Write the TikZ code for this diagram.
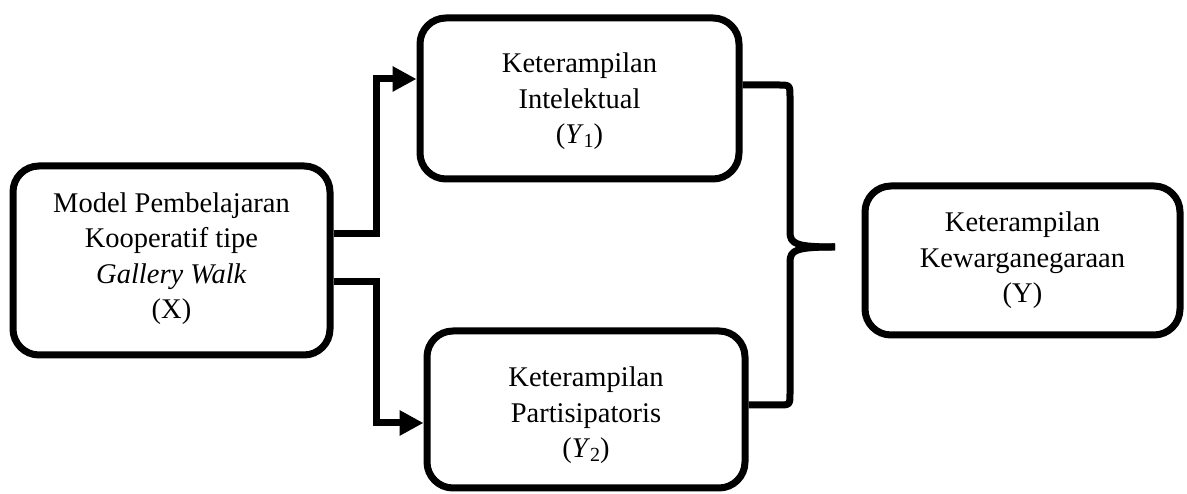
\documentclass[tikz,border=0pt]{standalone}
\usepackage{fontspec}
\setmainfont{Liberation Serif}
\usetikzlibrary{arrows.meta,calc}
\begin{document}
\begin{tikzpicture}[x=1pt,y=1pt,
  box/.style={draw, line width=7pt, rounded corners=26pt, inner sep=0pt},
  txt/.style={align=center, font=\fontsize{28.5}{35.5}\selectfont, inner sep=0pt},
  conn/.style={line width=7pt},
  arr/.style={conn, -{Triangle[length=24pt,width=24pt]}},
  brace/.style={line width=7pt, line join=round}]
\useasboundingbox (0,0) rectangle (1187,494);
\node[box, minimum width=317pt, minimum height=189pt] (X) at (171.5,233.5) {};
\node[txt] (Xt) at ($(X.center)+(0,2)$)
  {Model Pembelajaran\\Kooperatif tipe\\\textit{Gallery Walk}\\(X)};
\node[box, minimum width=319pt, minimum height=161pt] (Y1) at (579.5,395.5) {};
\node[txt] (Y1t) at ($(Y1.center)+(0,-3)$)
  {Keterampilan\\Intelektual\\(\textit{Y}\raisebox{-0.25ex}{\fontsize{20}{20}\selectfont 1})};
\node[box, minimum width=318pt, minimum height=157pt] (Y2) at (586,84.5) {};
\node[txt] (Y2t) at ($(Y2.center)+(0,-6)$)
  {Keterampilan\\Partisipatoris\\(\textit{Y}\raisebox{-0.25ex}{\fontsize{20}{20}\selectfont 2})};
\node[box, minimum width=315pt, minimum height=149pt] (Y) at (1022.5,233.5) {};
\node[txt] (Yt) at ($(Y.center)+(0,0)$)
  {Keterampilan\\Kewarganegaraan\\(Y)};
\coordinate (j) at (376,0);
\coordinate (t) at (835,247);
\draw[arr] ($(X.east)+(0,27)$) -| ($(j)+(0,415)$) -- (Y1.west |- 0,415);
\draw[arr] ($(X.east)+(0,-21)$) -| ($(j)+(0,71)$) -- (Y2.west |- 0,71);
\draw[brace] (Y1.east |- 0,409) -- (778,409) .. controls (790,409) .. (790,397)
  -- (790,262) .. controls (790,250) and (796,247) .. (t);
\draw[brace] (t) .. controls (796,247) and (790,244) .. (790,232)
  -- (790,101) .. controls (790,89) .. (778,89) -- (Y2.east |- 0,89);
\end{tikzpicture}
\end{document}
